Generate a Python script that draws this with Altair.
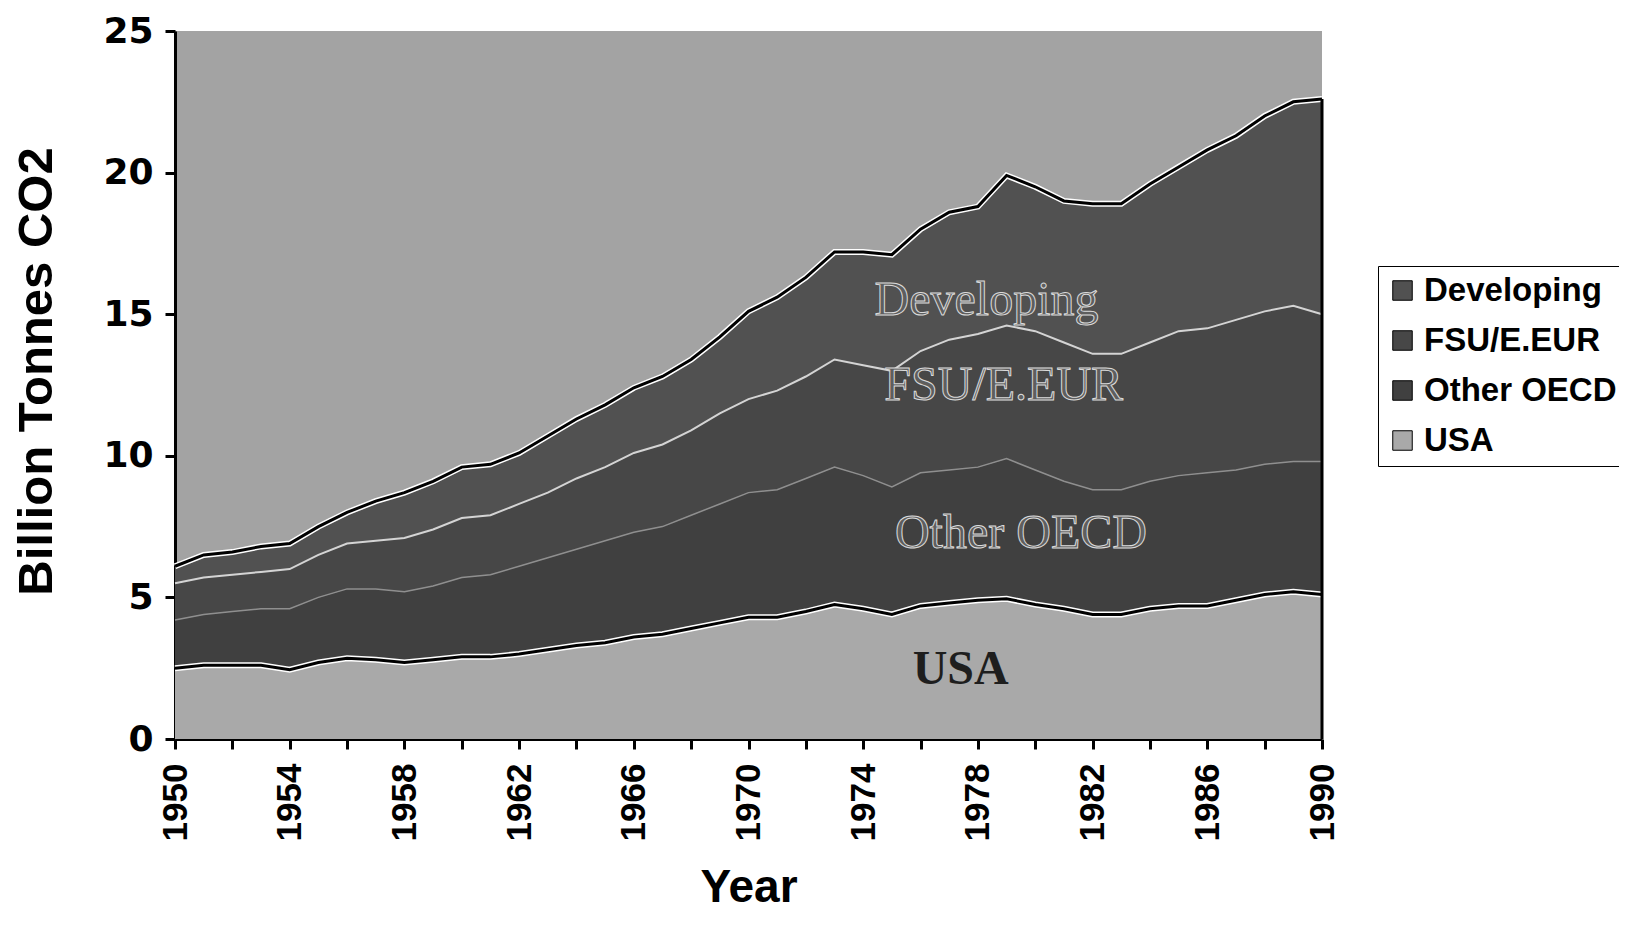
import altair as alt
import pandas as pd

# ---- data (cumulative tops of each band, billion tonnes CO2) ----
years = list(range(1950, 1991))

usa_top = [2.5, 2.6, 2.6, 2.6, 2.45, 2.7, 2.85, 2.8, 2.7, 2.8,
           2.9, 2.9, 3.0, 3.15, 3.3, 3.4, 3.6, 3.7, 3.9, 4.1,
           4.3, 4.3, 4.5, 4.75, 4.6, 4.4, 4.7, 4.8, 4.9, 4.95,
           4.75, 4.6, 4.4, 4.4, 4.6, 4.7, 4.7, 4.9, 5.1, 5.2, 5.1]

oecd_top = [4.2, 4.4, 4.5, 4.6, 4.6, 5.0, 5.3, 5.3, 5.2, 5.4,
            5.7, 5.8, 6.1, 6.4, 6.7, 7.0, 7.3, 7.5, 7.9, 8.3,
            8.7, 8.8, 9.2, 9.6, 9.3, 8.9, 9.4, 9.5, 9.6, 9.9,
            9.5, 9.1, 8.8, 8.8, 9.1, 9.3, 9.4, 9.5, 9.7, 9.8, 9.8]

fsu_top = [5.5, 5.7, 5.8, 5.9, 6.0, 6.5, 6.9, 7.0, 7.1, 7.4,
           7.8, 7.9, 8.3, 8.7, 9.2, 9.6, 10.1, 10.4, 10.9, 11.5,
           12.0, 12.3, 12.8, 13.4, 13.2, 13.0, 13.7, 14.1, 14.3, 14.6,
           14.4, 14.0, 13.6, 13.6, 14.0, 14.4, 14.5, 14.8, 15.1, 15.3, 15.0]

total_top = [6.1, 6.5, 6.6, 6.8, 6.9, 7.5, 8.0, 8.4, 8.7, 9.1,
             9.6, 9.7, 10.1, 10.7, 11.3, 11.8, 12.4, 12.8, 13.4, 14.2,
             15.1, 15.6, 16.3, 17.2, 17.2, 17.1, 18.0, 18.6, 18.8, 19.9,
             19.5, 19.0, 18.9, 18.9, 19.6, 20.2, 20.8, 21.3, 22.0, 22.5, 22.6]

series_names = ["Developing", "FSU/E.EUR", "Other OECD", "USA"]
series_colors = ["#515151", "#474747", "#404040", "#a9a9a9"]

y_ticks = [0, 5, 10, 15, 20, 25]

label_texts = ["Developing", "FSU/E.EUR", "Other OECD"]
label_x = [1978.3, 1978.9, 1979.5]
label_y = [15.45, 12.45, 7.25]
usa_label_x = [1977.4]
usa_label_y = [2.45]

# ---- tables ----
zeros = [0.0] * len(years)
bands = [
    ("USA", zeros, usa_top),
    ("Other OECD", usa_top, oecd_top),
    ("FSU/E.EUR", oecd_top, fsu_top),
    ("Developing", fsu_top, total_top),
]
rows = []
for name, lo, hi in bands:
    for yr, a, b in zip(years, lo, hi):
        rows.append({"series": name, "year": yr, "lo": a, "hi": b})
band_df = pd.DataFrame(rows)

line_df = pd.DataFrame({"year": years, "usa": usa_top, "oecd": oecd_top,
                        "fsu": fsu_top, "total": total_top})

lab_df = pd.DataFrame({"year": label_x, "val": label_y, "text": label_texts})
usa_df = pd.DataFrame({"year": usa_label_x, "val": usa_label_y, "text": ["USA"]})
edge_df = pd.DataFrame({"year": [years[-1]], "top": [total_top[-1]], "bottom": [0.0]})

W, H = 1147, 708

xscale = alt.Scale(domain=[years[0], years[-1]], nice=False, zero=False)
yscale = alt.Scale(domain=[0, 25], nice=False)

x_axis = alt.Axis(
    title="Year", values=years, format="d",
    labelExpr="(datum.value - 1950) % 4 == 0 ? datum.label : ''",
    labelAngle=270, labelFont="Liberation Sans", labelFontWeight="bold",
    labelFontSize=35, labelPadding=14, labelColor="black",
    titleFont="Liberation Sans", titleFontWeight="bold", titleFontSize=46,
    titleColor="black", titleBaseline="alphabetic", titleY=162,
    tickSize=10, tickWidth=3, tickColor="black",
    domainColor="black", domainWidth=3, grid=False,
)
y_axis = alt.Axis(
    title="Billion Tonnes CO2", values=y_ticks,
    labelFont="DejaVu Sans", labelFontWeight="bold", labelFontSize=36,
    labelPadding=12, labelColor="black",
    titleFont="Liberation Sans", titleFontWeight="bold", titleFontSize=49,
    titleColor="black", titleAngle=270, titleAlign="center",
    titleBaseline="middle", titleX=-139, titleY=340,
    tickSize=10, tickWidth=3, tickColor="black",
    domainColor="black", domainWidth=3, grid=False,
)

areas = alt.Chart(band_df).mark_area(opacity=1).encode(
    x=alt.X("year:Q", scale=xscale, axis=x_axis),
    y=alt.Y("hi:Q", scale=yscale, axis=y_axis, stack=False),
    y2="lo:Q",
    color=alt.Color(
        "series:N",
        scale=alt.Scale(domain=series_names, range=series_colors),
        title=None,
        legend=alt.Legend(
            orient="none", legendX=1203, legendY=235,
            symbolType="square", symbolSize=380, symbolStrokeColor="black",
            symbolStrokeWidth=1, symbolOpacity=1,
            labelFont="Liberation Sans", labelFontWeight="bold",
            labelFontSize=33, labelColor="black", labelOffset=5,
            rowPadding=16, padding=8, strokeColor="black",
            fillColor="white", labelLimit=400,
        ),
    ),
)

base = alt.Chart(line_df).encode(x=alt.X("year:Q", scale=xscale))

total_halo = base.mark_line(color="white", strokeWidth=6).encode(y=alt.Y("total:Q", scale=yscale))
total_line = base.mark_line(color="black", strokeWidth=3).encode(y=alt.Y("total:Q", scale=yscale))
fsu_line = base.mark_line(color="#d4d4d4", strokeWidth=2).encode(y=alt.Y("fsu:Q", scale=yscale))
oecd_line = base.mark_line(color="#8f8f8f", strokeWidth=1.5).encode(y=alt.Y("oecd:Q", scale=yscale))
usa_halo = base.mark_line(color="white", strokeWidth=6).encode(y=alt.Y("usa:Q", scale=yscale))
usa_line = base.mark_line(color="black", strokeWidth=3).encode(y=alt.Y("usa:Q", scale=yscale))

edge = alt.Chart(edge_df).mark_rule(color="black", strokeWidth=3).encode(
    x=alt.X("year:Q", scale=xscale),
    y=alt.Y("top:Q", scale=yscale),
    y2="bottom:Q",
)

labels = alt.Chart(lab_df).mark_text(
    font="Liberation Serif", fontSize=48, fill="#5e5e5e",
    stroke="#dadada", strokeWidth=1, align="center", baseline="middle",
).encode(x=alt.X("year:Q", scale=xscale), y=alt.Y("val:Q", scale=yscale), text="text:N")

usa_label = alt.Chart(usa_df).mark_text(
    font="Liberation Serif", fontSize=48, fontWeight="bold", fill="#1e1e1e",
    align="center", baseline="middle",
).encode(x=alt.X("year:Q", scale=xscale), y=alt.Y("val:Q", scale=yscale), text="text:N")

chart = alt.layer(
    areas, usa_halo, usa_line, oecd_line, fsu_line, total_halo, total_line,
    edge, labels, usa_label,
).properties(
    width=W, height=H,
    autosize=alt.AutoSizeParams(type="none"),
    padding={"left": 167, "top": 23, "right": 297, "bottom": 175},
    background="white",
).configure_view(fill="#a3a3a3", strokeWidth=0)

chart.save("out.html", embed_options={"renderer": "svg", "actions": False})
